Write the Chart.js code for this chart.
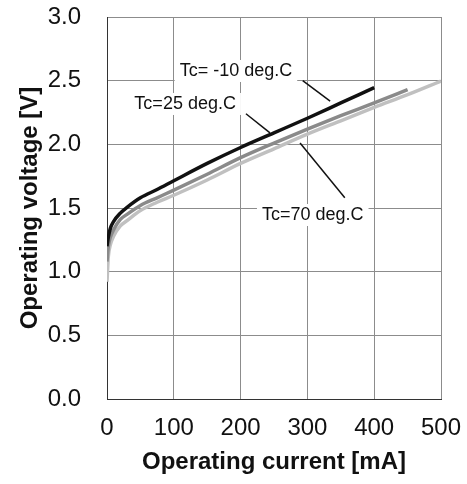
<!DOCTYPE html>
<html>
<head>
<meta charset="utf-8">
<script src="https://cdn.jsdelivr.net/npm/chart.js@4"></script>
<style>
  html, body { margin: 0; padding: 0; background: #fff; }
  #wrap { width: 467px; height: 484px; }
</style>
</head>
<body>
<div id="wrap"><canvas id="ivChart" width="467" height="484"></canvas></div>
<script>
'use strict';

/* ---- data ---- */
const currentM10 = [0, 2, 5, 10, 20, 30, 50, 75, 100, 150, 200, 250, 300, 350, 400];
const voltageM10 = [1.20, 1.27, 1.34, 1.395, 1.46, 1.505, 1.58, 1.645, 1.714, 1.85, 1.975, 2.09, 2.205, 2.325, 2.445];

const current25 = [0, 2, 5, 10, 20, 30, 50, 75, 100, 150, 200, 250, 300, 350, 400, 450];
const voltage25 = [1.08, 1.20, 1.27, 1.33, 1.41, 1.45, 1.52, 1.58, 1.64, 1.765, 1.895, 2.01, 2.12, 2.225, 2.325, 2.43];

const current70 = [0, 2, 5, 10, 20, 30, 50, 75, 100, 150, 200, 250, 300, 350, 400, 450, 500];
const voltage70 = [0.92, 1.12, 1.21, 1.28, 1.36, 1.40, 1.48, 1.545, 1.60, 1.72, 1.85, 1.965, 2.08, 2.185, 2.29, 2.39, 2.497];

const xTicks = [0, 100, 200, 300, 400, 500];
const yTicks = [0, 0.5, 1.0, 1.5, 2.0, 2.5, 3.0];

// label text, label centre, leader line start/end (data units)
const labels = [
  { text: 'Tc= -10 deg.C', x: 193, y: 2.576, from: [293, 2.50], to: [334, 2.34] },
  { text: 'Tc=25 deg.C',   x: 117, y: 2.317, from: [208, 2.24], to: [244, 2.09] },
  { text: 'Tc=70 deg.C',   x: 308, y: 1.445, from: [289, 2.01], to: [356, 1.58] },
];

const pts = (xs, ys) => xs.map((x, i) => ({ x, y: ys[i] }));

/* annotation labels with white boxes and leader lines */
const annotate = {
  id: 'annotate',
  afterDatasetsDraw(chart) {
    const { ctx, scales: { x, y } } = chart;
    ctx.save();
    ctx.font = '18px "Liberation Sans", Arial, sans-serif';
    ctx.textAlign = 'center';
    ctx.textBaseline = 'middle';
    labels.forEach(l => {
      const cx = x.getPixelForValue(l.x), cy = y.getPixelForValue(l.y);
      const w = ctx.measureText(l.text).width;
      ctx.fillStyle = '#fff';
      ctx.fillRect(cx - w / 2 - 5, cy - 11, w + 10, 22);
      ctx.fillStyle = '#111';
      ctx.fillText(l.text, cx, cy);
      ctx.strokeStyle = '#111';
      ctx.lineWidth = 1.5;
      ctx.beginPath();
      ctx.moveTo(x.getPixelForValue(l.from[0]), y.getPixelForValue(l.from[1]));
      ctx.lineTo(x.getPixelForValue(l.to[0]), y.getPixelForValue(l.to[1]));
      ctx.stroke();
    });
    ctx.restore();
  },
};

const lineStyle = { borderWidth: 3.5, pointRadius: 0, cubicInterpolationMode: 'monotone', fill: false };
const tickFont = { family: '"Liberation Sans", Arial', size: 24 };
const titleFont = { family: '"Liberation Sans", Arial', size: 24, weight: 'bold' };

new Chart(document.getElementById('ivChart').getContext('2d'), {
  type: 'line',
  data: {
    datasets: [
      { label: 'Tc=-10', data: pts(currentM10, voltageM10), borderColor: '#111111', ...lineStyle },
      { label: 'Tc=25',  data: pts(current25, voltage25),   borderColor: '#8a8a8a', ...lineStyle },
      { label: 'Tc=70',  data: pts(current70, voltage70),   borderColor: '#c0c0c0', ...lineStyle },
    ],
  },
  options: {
    responsive: false,
    animation: false,
    layout: { padding: { top: 17, right: 26, left: 0, bottom: 0 } },
    plugins: { legend: { display: false }, tooltip: { enabled: false } },
    scales: {
      x: {
        type: 'linear', min: 0, max: 500,
        afterBuildTicks: s => { s.ticks = xTicks.map(v => ({ value: v })); },
        afterFit: s => { s.height = 85; s.paddingLeft = 0; s.paddingRight = 0; },
        ticks: { color: '#111', padding: 15, maxRotation: 0, font: tickFont },
        grid: { color: '#8c8c8c', lineWidth: 1, drawTicks: false },
        border: { color: '#333', width: 1 },
        title: { display: true, text: 'Operating current [mA]', color: '#111', padding: { top: 0, bottom: 7 }, font: titleFont },
      },
      y: {
        type: 'linear', min: 0, max: 3,
        afterBuildTicks: s => { s.ticks = yTicks.map(v => ({ value: v })); },
        afterFit: s => { s.width = 107; s.paddingTop = 0; s.paddingBottom = 0; },
        ticks: { color: '#111', padding: 26, font: tickFont, callback: v => v.toFixed(1) },
        grid: { color: '#8c8c8c', lineWidth: 1, drawTicks: false },
        border: { color: '#333', width: 1 },
        title: { display: true, text: 'Operating voltage [V]', color: '#111', padding: { top: 16, bottom: 0 }, font: titleFont },
      },
    },
  },
  plugins: [annotate],
});
</script>
</body>
</html>
